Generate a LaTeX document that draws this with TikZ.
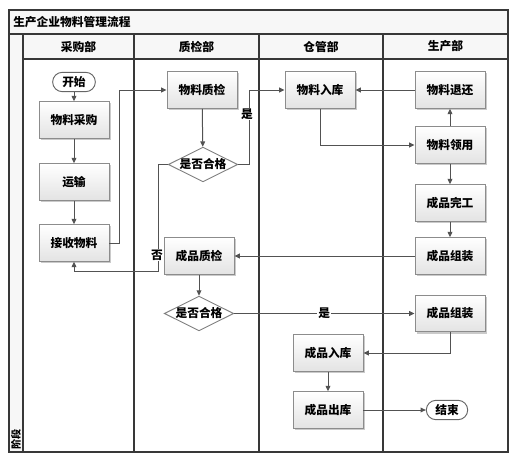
\documentclass[tikz,border=0pt]{standalone}
\usepackage{fontspec}
\setmainfont{Noto Sans CJK SC}
\usetikzlibrary{arrows.meta,shapes.geometric,shadows}
\begin{document}
\begin{tikzpicture}[x=0.75pt,y=-0.75pt,
  font=\fontsize{8.8}{10}\selectfont\bfseries,
  frame/.style={draw=black!78, line width=0.9pt},
  proc/.style={draw=black!45, line width=0.7pt, top color=white, bottom color=black!11,
    minimum width=52.5pt, minimum height=27.5pt, inner sep=0pt,
    drop shadow={shadow xshift=1.3pt, shadow yshift=-1.3pt, fill=black!35, opacity=0.6}},
  decision/.style={diamond, aspect=2, draw=black!50, line width=0.7pt, fill=white,
    minimum width=51.5pt, minimum height=26pt, inner sep=0pt},
  term/.style={draw=black!60, line width=0.7pt, fill=white, rounded corners=7.2pt,
    minimum width=32pt, minimum height=14.5pt, inner sep=0pt},
  conn/.style={draw=black!68, line width=0.75pt, -{Triangle[length=4pt,width=3.6pt]}},
  lbl/.style={fill=white, inner sep=0.8pt},
  hdr/.style={inner sep=0pt}]
\useasboundingbox (0,0) rectangle (519,457);
% frame
\fill[black!3] (9,10) rectangle (508,59);
\fill[black!3] (9,59) rectangle (23,452);
\draw[frame] (9,10) rectangle (508,452);
\draw[frame] (9,34) -- (508,34);
\draw[frame] (23,59) -- (508,59);
\draw[frame] (23,34) -- (23,452);
\draw[frame] (134,34) -- (134,452);
\draw[frame] (259,34) -- (259,452);
\draw[frame] (383,34) -- (383,452);
\node[hdr, anchor=west] (title) at (13,22) {生产企业物料管理流程};
\node[hdr] (h1) at (78.5,46.5) {采购部};
\node[hdr] (h2) at (196.5,46.5) {质检部};
\node[hdr] (h3) at (321,46.5) {仓管部};
\node[hdr] (h4) at (445.5,46.5) {生产部};
\node[hdr, rotate=90, font=\fontsize{7.6}{8}\selectfont\bfseries] (stage) at (16,439) {阶段};
% nodes
\node[term] (start) at (74,82) {开始};
\node[proc] (buy) at (74,120) {物料采购};
\node[proc] (trans) at (74,182) {运输};
\node[proc] (recv) at (74,243) {接收物料};
\node[proc] (qc1) at (202,90) {物料质检};
\node[decision] (dec1) at (203,164.5) {是否合格};
\node[proc] (qc2) at (199,256) {成品质检};
\node[decision] (dec2) at (199,313.5) {是否合格};
\node[proc] (in1) at (320,90) {物料入库};
\node[proc] (ret) at (450,90) {物料退还};
\node[proc] (use) at (450,145) {物料领用};
\node[proc] (done) at (450,203) {成品完工};
\node[proc] (asm1) at (450,256) {成品组装};
\node[proc] (asm2) at (450,313.5) {成品组装};
\node[proc] (in2) at (328,353) {成品入库};
\node[proc] (out) at (328,410) {成品出库};
\node[term, minimum width=31pt] (end) at (447,410) {结束};
% connectors
\draw[conn] (start) -- (buy);
\draw[conn] (buy) -- (trans);
\draw[conn] (trans) -- (recv);
\draw[conn] (recv.east) -- ++(10,0) |- (qc1.west);
\draw[conn] (qc1) -- (dec1);
\draw[conn] (dec1.east) -- ++(11,0) |- (in1.west);
\node[lbl] (yes1) at (247,114) {是};
\draw[conn] (dec1.west) -| (158,271) -| (recv.south);
\node[lbl] (no1) at (157,255) {否};
\draw[conn] (in1.south) |- (use.west);
\draw[conn] (use) -- (ret);
\draw[conn] (ret) -- (in1);
\draw[conn] (use) -- (done);
\draw[conn] (done) -- (asm1);
\draw[conn] (asm1) -- (qc2);
\draw[conn] (qc2) -- (dec2);
\draw[conn] (dec2) -- node[lbl] (yes2) {是} (asm2);
\draw[conn] (asm2.south) |- (in2.east);
\draw[conn] (in2) -- (out);
\draw[conn] (out) -- (end);
\end{tikzpicture}
\end{document}
